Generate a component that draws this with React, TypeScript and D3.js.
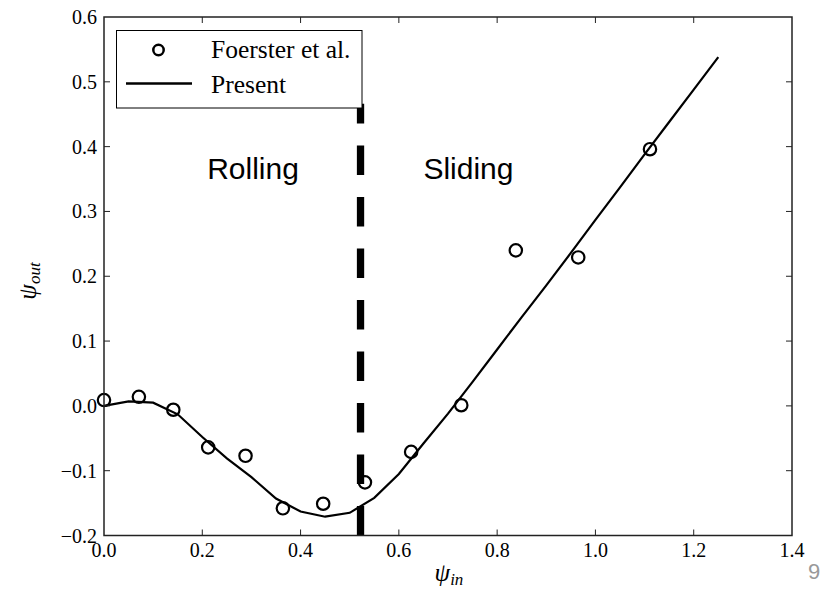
import React from "react";
import * as d3 from "d3";

const lineX = [0.0, 0.05, 0.1, 0.15, 0.2, 0.25, 0.3, 0.35, 0.4, 0.45, 0.5, 0.55, 0.6, 0.65, 0.7, 0.75, 0.8, 0.85, 0.9, 0.95, 1.0, 1.05, 1.1, 1.15, 1.2, 1.25];
const lineY = [0.0, 0.007, 0.005, -0.013, -0.048, -0.081, -0.11, -0.143, -0.163, -0.171, -0.165, -0.142, -0.105, -0.058, -0.012, 0.037, 0.087, 0.137, 0.186, 0.236, 0.287, 0.337, 0.388, 0.438, 0.488, 0.538];

const expX = [0.0, 0.071, 0.141, 0.212, 0.288, 0.364, 0.446, 0.531, 0.625, 0.727, 0.838, 0.965, 1.111];
const expY = [0.009, 0.014, -0.006, -0.064, -0.077, -0.158, -0.151, -0.118, -0.071, 0.001, 0.24, 0.229, 0.396];

const xTicks = [0.0, 0.2, 0.4, 0.6, 0.8, 1.0, 1.2, 1.4];
const yTicks = [-0.2, -0.1, 0.0, 0.1, 0.2, 0.3, 0.4, 0.5, 0.6];

const boundaryX = 0.522;
const boundaryTop = 0.466;

const legendLabels = ["Foerster et al.", "Present"];
const regionLabels = [
  { text: "Rolling", x: 0.21, y: 0.35 },
  { text: "Sliding", x: 0.65, y: 0.35 },
];

const L = 104, R = 792, T = 17, B = 535.5;
const serif = "'Liberation Serif', 'Times New Roman', serif";
const sans = "'Liberation Sans', Arial, sans-serif";

export default function App() {
  const x = d3.scaleLinear().domain([0, 1.4]).range([L, R]);
  const y = d3.scaleLinear().domain([-0.2, 0.6]).range([B, T]);
  const lineData = lineX.map((v, i) => [v, lineY[i]] as [number, number]);
  const path = d3.line<[number, number]>().x(d => x(d[0])).y(d => y(d[1]))(lineData) || "";
  const fmt = (v: number) => (v < 0 ? "\u2212" : "") + Math.abs(v).toFixed(1);
  const axisColor = "#222";

  return (
    <svg width={823} height={591} style={{ position: "absolute", left: 0, top: 0, background: "#fff" }}>
      <rect x={0} y={0} width={823} height={591} fill="#fff" />
      {/* data line */}
      <path d={path} fill="none" stroke="#000" strokeWidth={2.2} strokeLinejoin="miter" />
      {/* circles */}
      {expX.map((v, i) => (
        <circle key={i} cx={x(v)} cy={y(expY[i])} r={6.2} fill="none" stroke="#000" strokeWidth={2.2} />
      ))}
      {/* boundary dashed line */}
      <line x1={x(boundaryX)} x2={x(boundaryX)} y1={y(-0.2)} y2={y(boundaryTop)} stroke="#000" strokeWidth={7.3} strokeDasharray="29.5 22" />
      {/* region labels */}
      {regionLabels.map((r, i) => (
        <text key={i} x={x(r.x)} y={y(r.y)} fontFamily={sans} fontSize={30} fill="#000">{r.text}</text>
      ))}
      {/* spines */}
      <rect x={L} y={T} width={R - L} height={B - T} fill="none" stroke={axisColor} strokeWidth={1.5} />
      {/* x ticks */}
      {xTicks.map((t, i) => (
        <g key={"x" + i}>
          {i > 0 && i < xTicks.length - 1 && (
            <>
              <line x1={x(t)} x2={x(t)} y1={B} y2={B - 6} stroke={axisColor} strokeWidth={1} />
              <line x1={x(t)} x2={x(t)} y1={T} y2={T + 6} stroke={axisColor} strokeWidth={1} />
            </>
          )}
          <text x={x(t)} y={557} textAnchor="middle" fontFamily={serif} fontSize={20} fill="#000">{t.toFixed(1)}</text>
        </g>
      ))}
      {/* y ticks */}
      {yTicks.map((t, i) => (
        <g key={"y" + i}>
          {i > 0 && i < yTicks.length - 1 && (
            <>
              <line x1={L} x2={L + 6} y1={y(t)} y2={y(t)} stroke={axisColor} strokeWidth={1} />
              <line x1={R} x2={R - 6} y1={y(t)} y2={y(t)} stroke={axisColor} strokeWidth={1} />
            </>
          )}
          <text x={97} y={y(t) + 7} textAnchor="end" fontFamily={serif} fontSize={20} fill="#000">{fmt(t)}</text>
        </g>
      ))}
      {/* axis labels */}
      <text x={449} y={581} textAnchor="middle" fontFamily={serif} fontStyle="italic" fontSize={25} fill="#000">
        ψ<tspan fontSize={17} dy={4}>in</tspan>
      </text>
      <text transform="translate(36,281) rotate(-90)" textAnchor="middle" fontFamily={serif} fontStyle="italic" fontSize={25} fill="#000">
        ψ<tspan fontSize={17} dy={4}>out</tspan>
      </text>
      {/* legend */}
      <rect x={116.5} y={30.5} width={245.5} height={77.5} fill="#fff" stroke="#000" strokeWidth={1} />
      <circle cx={158.5} cy={50} r={5.2} fill="none" stroke="#000" strokeWidth={2.5} />
      <line x1={126} x2={192} y1={83.5} y2={83.5} stroke="#000" strokeWidth={2.5} />
      <text x={211} y={58} fontFamily={serif} fontSize={25.5} fill="#000">{legendLabels[0]}</text>
      <text x={211} y={93} fontFamily={serif} fontSize={25.5} fill="#000">{legendLabels[1]}</text>
      {/* page number fragment */}
      <text x={808} y={579} fontFamily={sans} fontSize={22} fill="#999">9</text>
    </svg>
  );
}
